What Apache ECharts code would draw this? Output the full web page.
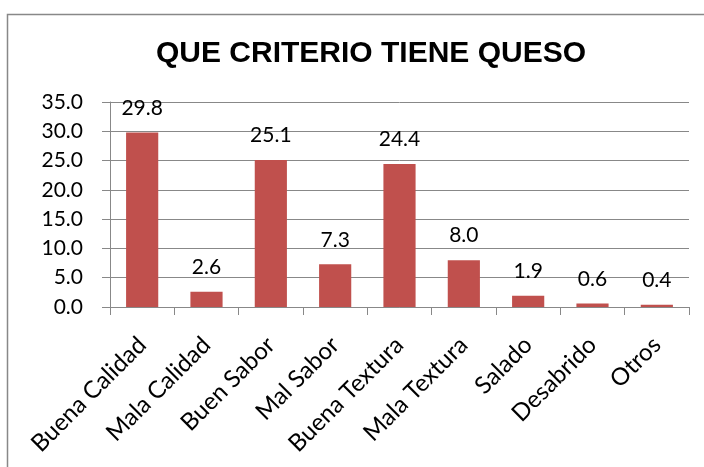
<!DOCTYPE html>
<html><head><meta charset="utf-8">
<script src="https://cdn.jsdelivr.net/npm/echarts@6/dist/echarts.min.js"></script>
<style>html,body{margin:0;padding:0;background:#fff}#c{width:704px;height:467px}</style>
</head><body><div id="c"></div>
<script>
const categories = ["Buena Calidad","Mala Calidad","Buen Sabor","Mal Sabor","Buena Textura","Mala Textura","Salado","Desabrido","Otros"];
const values = [29.8, 2.6, 25.1, 7.3, 24.4, 8.0, 1.9, 0.6, 0.4];
const titleText = "QUE CRITERIO TIENE QUESO";
const yMin = 0, yMax = 35, yStep = 5;

const chart = echarts.init(document.getElementById('c'));
const font = 'Lato, "Open Sans", sans-serif';
chart.setOption({
  animation: false,
  graphic: [
    {type:'rect', shape:{x:7.5,y:14.5,width:720,height:480}, style:{fill:'none', stroke:'#888', lineWidth:1.5}},
    {type:'text', x:371, y:54, style:{text:titleText, x:0, y:0, align:'center', verticalAlign:'middle', font:'bold 30px "Liberation Sans", Arial, sans-serif', fill:'#000'}}
  ],
  grid: {left:110, right:15, top:102, bottom:160, containLabel:false},
  xAxis: {type:'category', data: categories,
    axisLine:{lineStyle:{color:'#888', width:1}},
    axisTick:{show:true, alignWithLabel:false, length:8, lineStyle:{color:'#888'}},
    axisLabel:{rotate:45, interval:0, margin:34, fontFamily:font, fontSize:24, color:'#000'}},
  yAxis: {type:'value', min:yMin, max:yMax, interval:yStep,
    axisLine:{show:true, lineStyle:{color:'#888'}},
    axisTick:{show:true, length:8, lineStyle:{color:'#888'}},
    splitLine:{lineStyle:{color:'#888', width:1}},
    axisLabel:{formatter: v => v.toFixed(1), fontFamily:font, fontSize:21, color:'#000', margin:27}},
  series: [{type:'bar', data: values, barWidth:'50%',
    itemStyle:{color:'#C0504D'},
    label:{show:true, position:'top', distance:14, formatter: p => p.value.toFixed(1), fontFamily:font, fontSize:21, color:'#000'}}]
});
</script></body></html>
